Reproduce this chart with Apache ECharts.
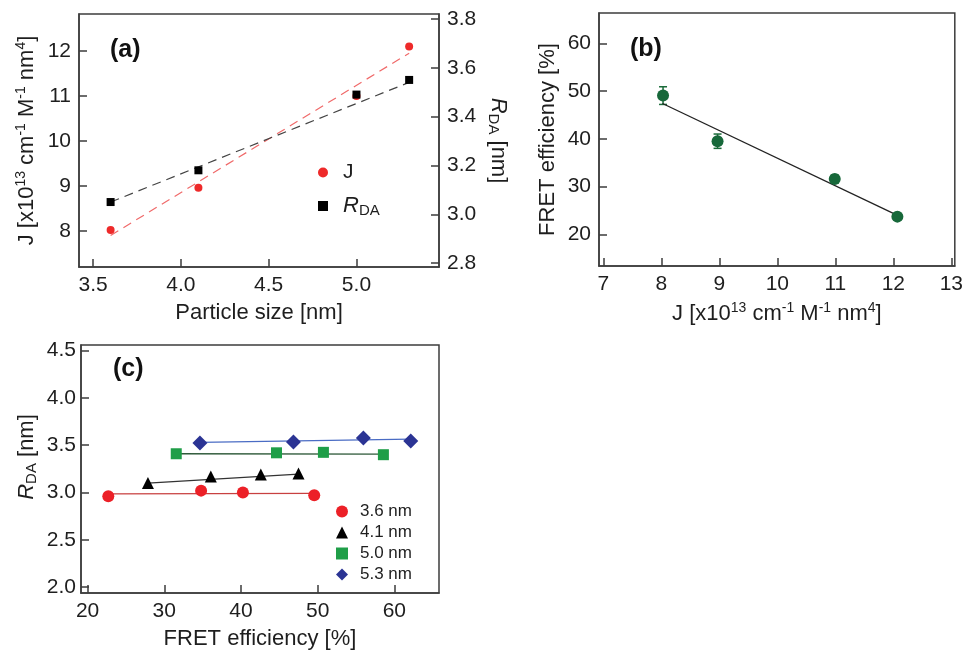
<!DOCTYPE html>
<html>
<head>
<meta charset="utf-8">
<script src="https://cdn.jsdelivr.net/npm/echarts@6/dist/echarts.min.js"></script>
<style>html,body{margin:0;padding:0;background:#fff;}#c{width:966px;height:651px;}</style>
</head>
<body>
<div id="c"></div>
<script>
// ---- Panel (a) data ----
var sizeA = [3.6, 4.1, 5.0, 5.3];
var jA = [8.02, 8.96, 11.0, 12.1];
var rdaA = [3.05, 3.18, 3.49, 3.55];
var fitXA = [3.6, 5.3];
var jFitA = [7.9, 11.95];
var rdaFitA = [3.05, 3.54];
var ticksAx = [3.5, 4.0, 4.5, 5.0];
var ticksAyL = [8, 9, 10, 11, 12];
var ticksAyR = [2.8, 3.0, 3.2, 3.4, 3.6, 3.8];

// ---- Panel (b) data ----
var jB = [8.03, 8.97, 10.99, 12.07];
var fretB = [49.05, 39.5, 31.6, 23.7];
var errB = [1.85, 1.5, 0.8, 0.6];
var fitXB = [8.02, 12.0];
var fitYB = [47.4, 24.4];
var ticksBx = [7, 8, 9, 10, 11, 12, 13];
var ticksBy = [20, 30, 40, 50, 60];

// ---- Panel (c) data ----
var namesC = ['3.6 nm', '4.1 nm', '5.0 nm', '5.3 nm'];
var fret36 = [22.7, 34.8, 40.25, 49.55];
var r36 = [2.96, 3.02, 3.00, 2.97];
var fret41 = [27.87, 36.07, 42.59, 47.5];
var r41 = [3.10, 3.17, 3.19, 3.20];
var fret50 = [31.56, 44.63, 50.75, 58.57];
var r50 = [3.41, 3.42, 3.425, 3.40];
var fret53 = [34.65, 46.84, 55.96, 62.14];
var r53 = [3.525, 3.535, 3.577, 3.546];
var fit36 = [[22.7, 2.985], [49.55, 2.99]];
var fit41 = [[27.87, 3.10], [47.5, 3.195]];
var fit50 = [[31.56, 3.41], [58.57, 3.405]];
var fit53 = [[34.65, 3.53], [62.14, 3.565]];
var ticksCx = [20, 30, 40, 50, 60];
var ticksCy = [2.0, 2.5, 3.0, 3.5, 4.0, 4.5];

var FONT = 'Liberation Sans, Arial, Helvetica, sans-serif';
var AX = '#3c3c3c';
var TXT = '#1e1e1e';

function zip(a, b) { return a.map(function (v, i) { return [v, b[i]]; }); }

function valAxis(opt) {
  return {
    type: 'value',
    gridIndex: opt.grid,
    position: opt.position,
    min: opt.min, max: opt.max,
    scale: true,
    splitLine: { show: false },
    axisLine: { show: true, onZero: false, lineStyle: { color: AX, width: 1.5 } },
    axisTick: { show: true, inside: true, length: 8, lineStyle: { color: AX, width: 1.5 }, customValues: opt.ticks },
    axisLabel: {
      show: true, customValues: opt.ticks, margin: opt.margin || 8,
      color: TXT, fontSize: 21, fontFamily: FONT,
      formatter: function (v) { return opt.dec ? v.toFixed(opt.dec) : String(Math.round(v)); }
    },
    name: opt.name, nameLocation: 'middle', nameGap: opt.nameGap, nameRotate: opt.nameRotate,
    nameTextStyle: {
      color: TXT, fontSize: 22, fontFamily: FONT, padding: opt.namePad || 0,
      rich: {
        sup: { fontSize: 14, fontFamily: FONT, color: TXT, padding: [0, 0, 11, 0] },
        sub: { fontSize: 15, fontFamily: FONT, color: TXT, padding: [10, 0, 0, 0] },
        i: { fontSize: 22, fontFamily: FONT, color: TXT, fontStyle: 'italic' },
        n: { fontSize: 22, fontFamily: FONT, color: TXT }
      }
    }
  };
}

var jName = '{n|J [x10}{sup|13}{n| cm}{sup|-1}{n| M}{sup|-1}{n| nm}{sup|4}{n|]}';
var rdaName = '{i|R}{sub|DA}{n| [nm]}';

var chart = echarts.init(document.getElementById('c'), null, { renderer: 'canvas' });

var gridStyle = { show: true, borderColor: AX, borderWidth: 1.5, backgroundColor: 'transparent', containLabel: false };

var option = {
  animation: false,
  backgroundColor: '#fff',
  title: [
    { text: '(a)', left: 110, top: 38, padding: 0, textStyle: { fontSize: 25, fontWeight: 'bold', fontFamily: FONT, color: '#111' } },
    { text: '(b)', left: 630, top: 37, padding: 0, textStyle: { fontSize: 25, fontWeight: 'bold', fontFamily: FONT, color: '#111' } },
    { text: '(c)', left: 113, top: 357, padding: 0, textStyle: { fontSize: 25, fontWeight: 'bold', fontFamily: FONT, color: '#111' } }
  ],
  grid: [
    Object.assign({ left: 79, top: 14, width: 360, height: 253 }, gridStyle),
    Object.assign({ left: 599, top: 13, width: 358, height: 253 }, gridStyle),
    Object.assign({ left: 81, top: 345, width: 358, height: 252 }, gridStyle)
  ],
  legend: [
    {
      orient: 'vertical', left: 318, top: 162, itemGap: 12,
      itemWidth: 10, itemHeight: 10, padding: 0,
      data: ['J', 'R_DA'],
      textStyle: {
        fontSize: 21, fontFamily: FONT, color: TXT, padding: [0, 0, 0, 10],
        rich: {
          i: { fontSize: 22, fontFamily: FONT, color: TXT, fontStyle: 'italic' },
          sub: { fontSize: 15, fontFamily: FONT, color: TXT, padding: [10, 0, 0, 0] }
        }
      },
      formatter: function (n) { return n === 'R_DA' ? '{i|R}{sub|DA}' : n; }
    },
    {
      orient: 'vertical', left: 336, top: 503, itemGap: 4,
      itemWidth: 12, itemHeight: 12, padding: 0,
      data: namesC,
      textStyle: { fontSize: 17, fontFamily: FONT, color: TXT, padding: [0, 0, 0, 7] }
    }
  ],
  xAxis: [
    valAxis({ grid: 0, position: 'bottom', min: 3.42, max: 5.47, ticks: ticksAx, dec: 1, name: 'Particle size [nm]', nameGap: 35 }),
    valAxis({ grid: 1, position: 'bottom', min: 6.926, max: 13.06, ticks: ticksBx, name: jName, nameGap: 35 }),
    valAxis({ grid: 2, position: 'bottom', min: 19.14, max: 65.82, ticks: ticksCx, name: 'FRET efficiency [%]', nameGap: 35 })
  ],
  yAxis: [
    valAxis({ grid: 0, position: 'left', min: 7.2, max: 12.82, ticks: ticksAyL, name: jName, nameGap: 40, nameRotate: 90 }),
    valAxis({ grid: 0, position: 'right', min: 2.784, max: 3.82, ticks: ticksAyR, dec: 1, name: rdaName, nameGap: 47, nameRotate: -90 }),
    valAxis({ grid: 1, position: 'left', min: 13.36, max: 66.35, ticks: ticksBy, name: 'FRET efficiency [%]', nameGap: 40, nameRotate: 90 }),
    valAxis({ grid: 2, position: 'left', min: 1.9375, max: 4.56, ticks: ticksCy, dec: 1, margin: 5, name: rdaName, nameGap: 42, nameRotate: 90, namePad: [0, 0, 0, 24] })
  ],
  series: [
    // (a)
    { type: 'line', xAxisIndex: 0, yAxisIndex: 0, data: zip(fitXA, jFitA), symbol: 'none', silent: true,
      lineStyle: { color: '#f06a6a', width: 1.2, type: [9, 6] }, z: 1 },
    { type: 'line', xAxisIndex: 0, yAxisIndex: 1, data: zip(fitXA, rdaFitA), symbol: 'none', silent: true,
      lineStyle: { color: '#444', width: 1.2, type: [9, 6] }, z: 1 },
    { name: 'J', type: 'scatter', xAxisIndex: 0, yAxisIndex: 0, data: zip(sizeA, jA), symbol: 'circle', symbolSize: 8,
      itemStyle: { color: '#ee2a2a', opacity: 1 }, z: 3 },
    { name: 'R_DA', type: 'scatter', xAxisIndex: 0, yAxisIndex: 1, data: zip(sizeA, rdaA), symbol: 'rect', symbolSize: 8,
      itemStyle: { color: '#000', opacity: 1 }, z: 4 },
    // (b)
    { type: 'custom', xAxisIndex: 1, yAxisIndex: 2, silent: true, z: 2,
      data: jB.map(function (x, i) { return [x, fretB[i] + errB[i], fretB[i] - errB[i]]; }),
      encode: { x: 0, y: [1, 2] },
      renderItem: function (params, api) {
        var x = api.value(0);
        var hi = api.coord([x, api.value(1)]);
        var lo = api.coord([x, api.value(2)]);
        var w = 4;
        var st = { stroke: '#1b6b3a', lineWidth: 1.5 };
        return { type: 'group', children: [
          { type: 'line', shape: { x1: hi[0], y1: hi[1], x2: lo[0], y2: lo[1] }, style: st },
          { type: 'line', shape: { x1: hi[0] - w, y1: hi[1], x2: hi[0] + w, y2: hi[1] }, style: st },
          { type: 'line', shape: { x1: lo[0] - w, y1: lo[1], x2: lo[0] + w, y2: lo[1] }, style: st }
        ] };
      }
    },
    { type: 'line', xAxisIndex: 1, yAxisIndex: 2, data: zip(fitXB, fitYB), symbol: 'none', silent: true,
      lineStyle: { color: '#222', width: 1.3 }, z: 2 },
    { name: 'FRET', type: 'scatter', xAxisIndex: 1, yAxisIndex: 2, data: zip(jB, fretB), symbol: 'circle', symbolSize: 12,
      itemStyle: { color: '#17683a', opacity: 1 }, z: 3 },
    // (c) fit lines
    { type: 'line', xAxisIndex: 2, yAxisIndex: 3, data: fit36, symbol: 'none', silent: true, lineStyle: { color: '#c84040', width: 1.3 }, z: 1 },
    { type: 'line', xAxisIndex: 2, yAxisIndex: 3, data: fit41, symbol: 'none', silent: true, lineStyle: { color: '#333', width: 1.3 }, z: 1 },
    { type: 'line', xAxisIndex: 2, yAxisIndex: 3, data: fit50, symbol: 'none', silent: true, lineStyle: { color: '#2f5a3a', width: 1.3 }, z: 1 },
    { type: 'line', xAxisIndex: 2, yAxisIndex: 3, data: fit53, symbol: 'none', silent: true, lineStyle: { color: '#4a6cc4', width: 1.3 }, z: 1 },
    // (c) scatter
    { name: namesC[0], type: 'scatter', xAxisIndex: 2, yAxisIndex: 3, data: zip(fret36, r36), symbol: 'circle', symbolSize: 12,
      itemStyle: { color: '#ec2027', opacity: 1 }, z: 3 },
    { name: namesC[1], type: 'scatter', xAxisIndex: 2, yAxisIndex: 3, data: zip(fret41, r41), symbol: 'triangle', symbolSize: 12,
      itemStyle: { color: '#000', opacity: 1 }, z: 3 },
    { name: namesC[2], type: 'scatter', xAxisIndex: 2, yAxisIndex: 3, data: zip(fret50, r50), symbol: 'rect', symbolSize: 11,
      itemStyle: { color: '#1f9e48', opacity: 1 }, z: 3 },
    { name: namesC[3], type: 'scatter', xAxisIndex: 2, yAxisIndex: 3, data: zip(fret53, r53), symbol: 'diamond', symbolSize: 15,
      itemStyle: { color: '#2b3494', opacity: 1 }, z: 3 }
  ]
};
chart.setOption(option);
</script>
</body>
</html>
